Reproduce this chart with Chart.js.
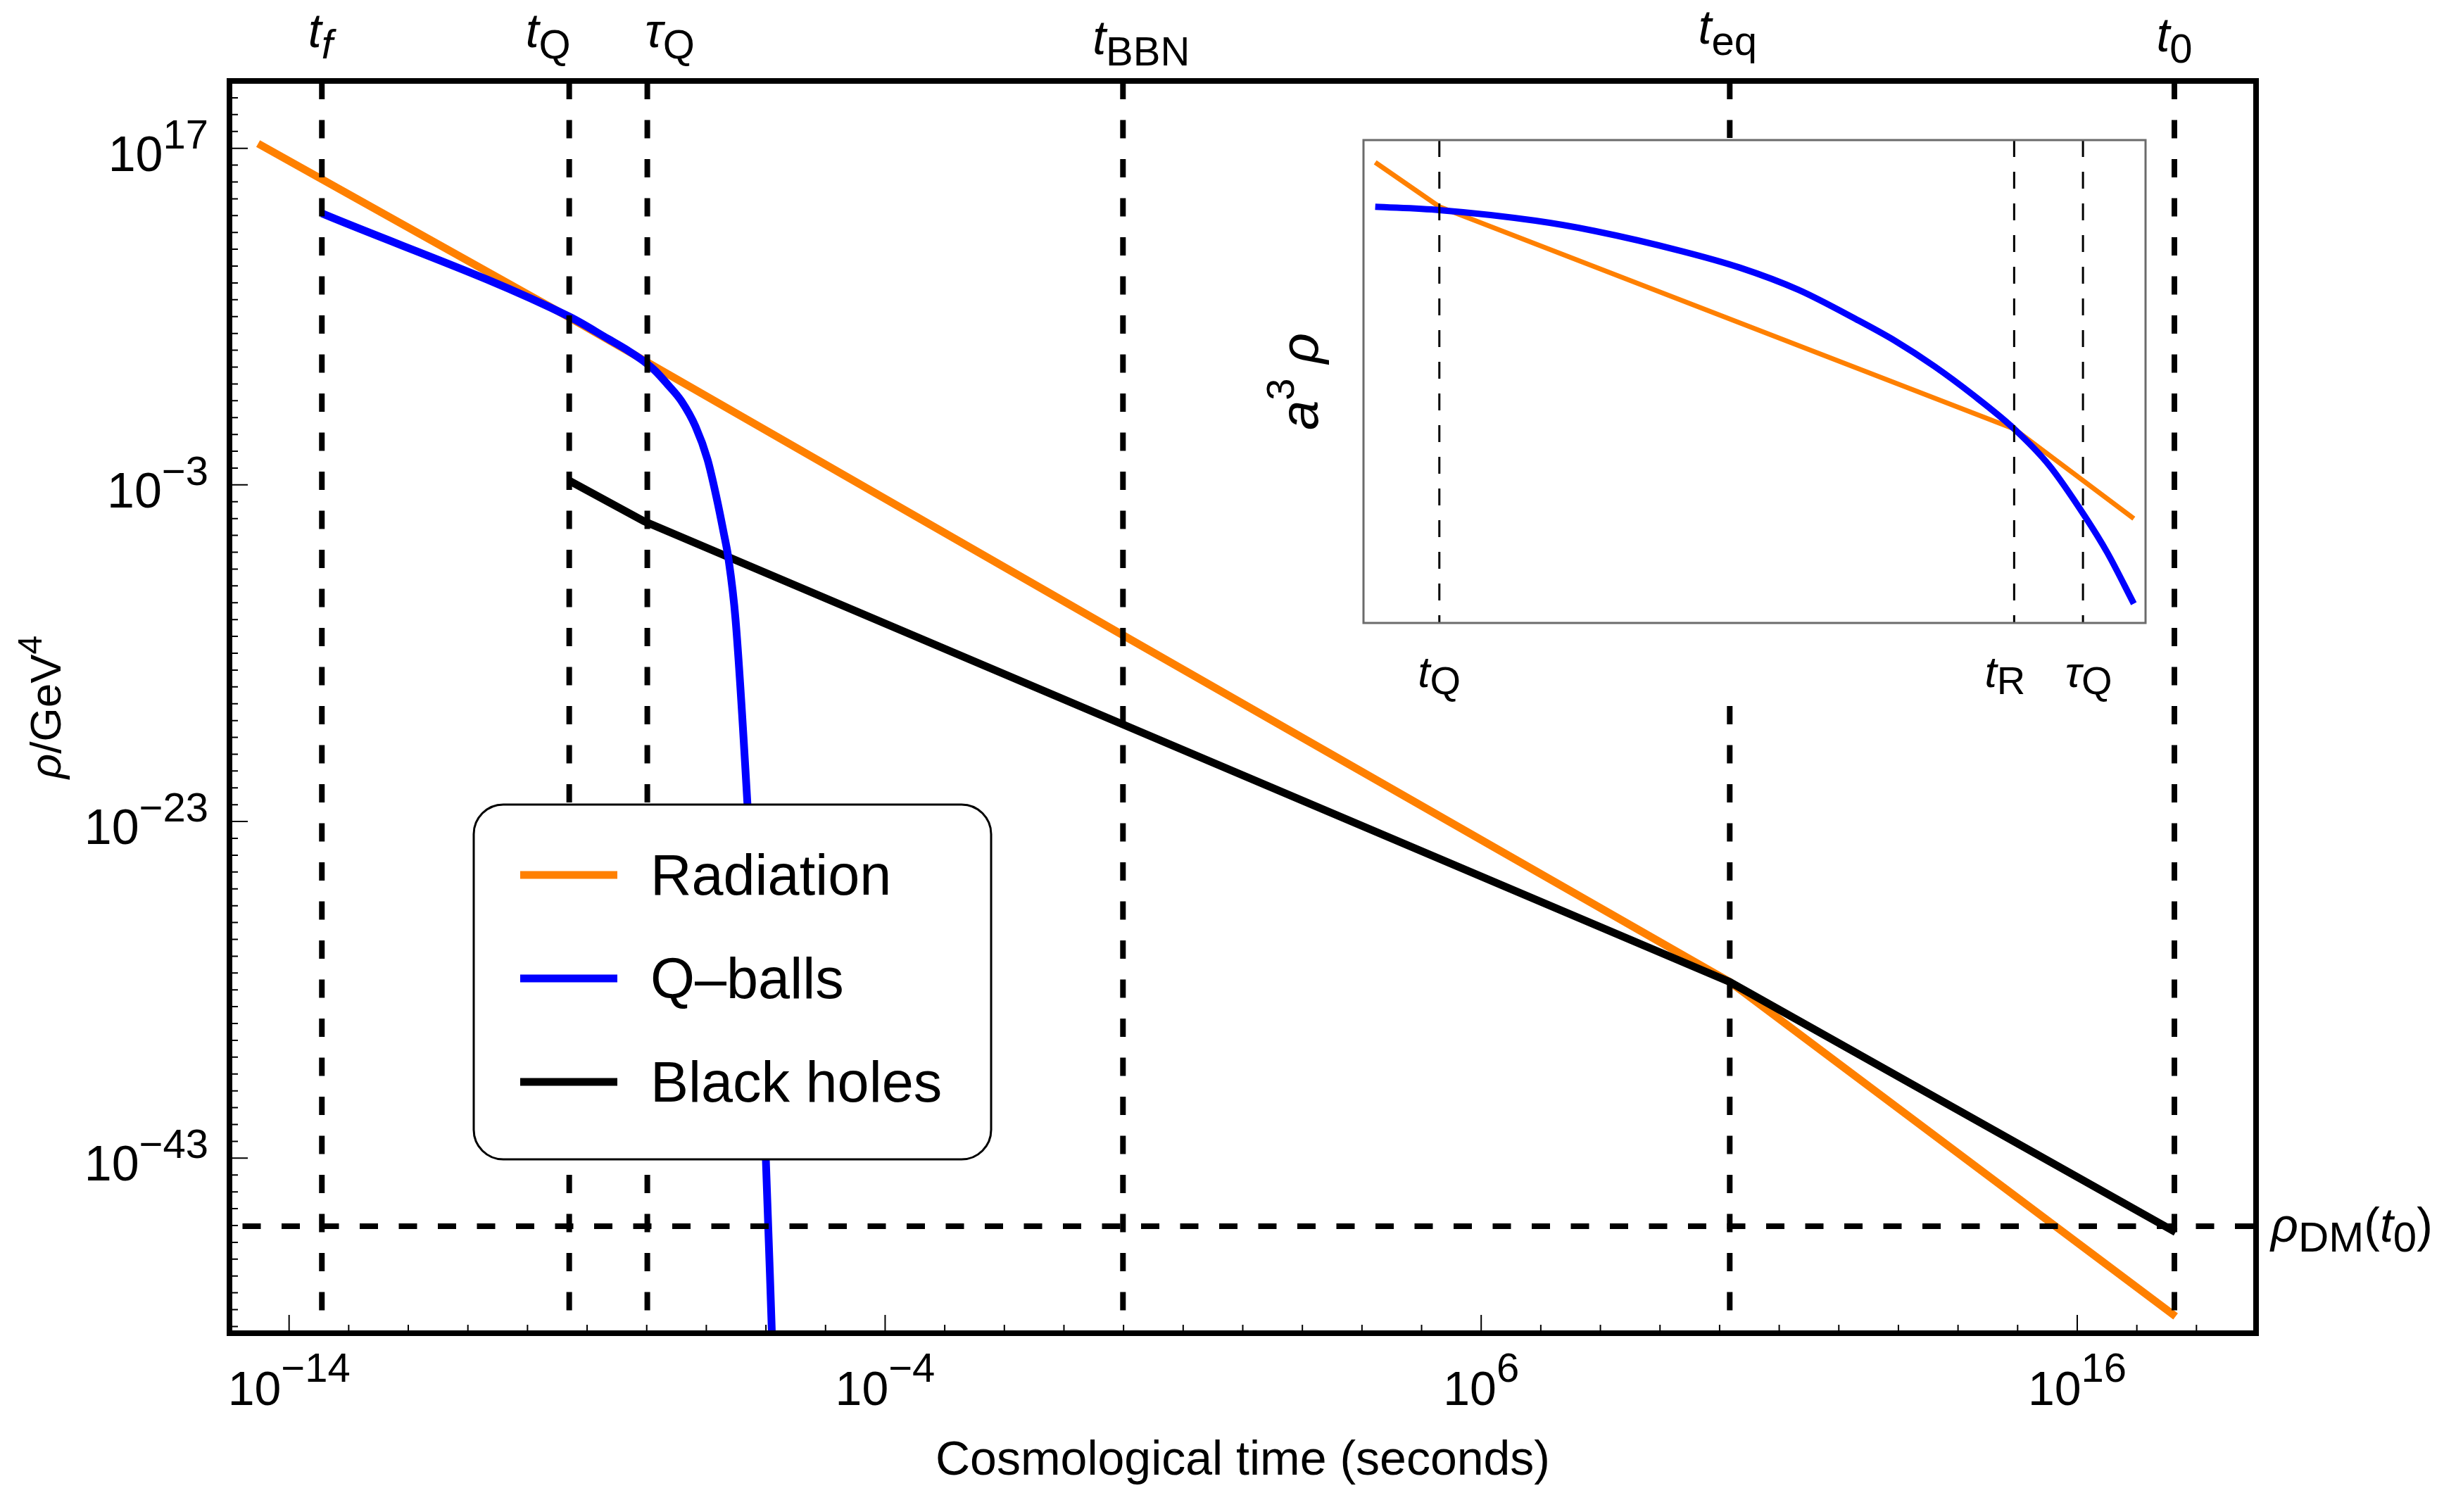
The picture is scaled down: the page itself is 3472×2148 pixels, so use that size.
<!DOCTYPE html>
<html>
<head>
<meta charset="utf-8">
<script src="https://cdn.jsdelivr.net/npm/chart.js@4.4.1/dist/chart.umd.min.js"></script>
<style>
  html, body { margin: 0; padding: 0; background: #fff; }
  #wrap { position: relative; width: 3472px; height: 2148px; }
  #main { position: absolute; left: 0; top: 0; }
  #inset { position: absolute; left: 1790px; top: 196px; background: #fff; }
</style>
</head>
<body>
<div id="wrap">
  <canvas id="main" width="3472" height="2148"></canvas>
  <canvas id="inset" width="1280" height="804"></canvas>
</div>
<script>
// all values are log10: time in seconds, density in GeV^4
const xRangeExp = [-15, 19];
const yRangeExp = [-53.4, 21];
const xTickExps = [-14, -4, 6, 16];
const yTickExps = [17, -3, -23, -43];

const seriesNames = ['Radiation', 'Q–balls', 'Black holes'];
const seriesColors = ['#ff8000', '#0000ff', '#000000'];

const radLogT = [-14.52, -9.30, 0, 10.17, 17.65];
const radLogRho = [17.28, 6.95, -11.95, -32.53, -52.4];

const qbLogT = [-13.45, -9.30, -8.65, -8.3, -8.05, -7.85, -7.65, -7.42, -7.18, -6.98, -6.83, -6.71, -6.63, -6.51, -6.31, -6.0, -5.90];
const qbLogRho = [13.13, 7.0, 5.68, 4.95, 4.35, 3.75, 2.97, 1.99, 0.46, -1.49, -3.73, -5.82, -7.35, -10.98, -21.97, -43.19, -53.4];

const bhLogT = [-9.30, -8.05, 10.17, 17.65];
const bhLogRho = [-2.75, -5.15, -32.53, -47.4];

// vertical markers (top labels) and the dark matter density today
const markerNames = [['t', 'f'], ['t', 'Q'], ['τ', 'Q'], ['t', 'BBN'], ['t', 'eq'], ['t', '0']];
const markerLogT = [-13.45, -9.30, -7.99, -0.01, 10.17, 17.63];
const rhoDMLogRho = -47.04;

// inset: a^3 rho, arbitrary units 0..100
const insetRadX = [1.5, 9.7, 83.2, 98.5];
const insetRadY = [95.4, 86.2, 40.2, 21.6];
const insetQbX = [1.5, 9.7, 22.0, 29.5, 40.7, 48.1, 55.6, 63.1, 68.0, 73.0, 78.0, 83.2, 87.7, 92.2, 95.1, 98.5];
const insetQbY = [86.2, 85.5, 83.3, 81.2, 77.0, 73.6, 69.0, 62.8, 58.4, 53.15, 47.15, 40.2, 32.6, 22.2, 14.6, 4.0];
const insetMarkNames = [['t', 'Q'], ['t', 'R'], ['τ', 'Q']];
const insetMarkX = [9.7, 83.2, 92.0];

const SANS = '"Liberation Sans", Arial, Helvetica, sans-serif';
const F = (size, italic) => (italic ? 'italic ' : '') + size + 'px ' + SANS;
const logPts = (lx, ly) => lx.map((v, i) => ({ x: 10 ** v, y: 10 ** ly[i] }));
const linPts = (xs, ys) => xs.map((v, i) => ({ x: v, y: ys[i] }));

// draw a row of text pieces [text, font, dy]
function drawRuns(ctx, runs, x, y, align) {
  const parts = runs.map(r => {
    ctx.font = r[1];
    return { t: r[0], f: r[1], dy: r[2], w: ctx.measureText(r[0]).width };
  });
  const total = parts.reduce((s, p) => s + p.w, 0);
  let cx = align === 'center' ? x - total / 2 : align === 'right' ? x - total : x;
  ctx.textAlign = 'left';
  ctx.textBaseline = 'alphabetic';
  ctx.fillStyle = '#000';
  parts.forEach(p => {
    ctx.font = p.f;
    ctx.fillText(p.t, cx, y + p.dy);
    cx += p.w;
  });
}

function roundRect(ctx, x, y, w, h, r) {
  ctx.beginPath();
  ctx.moveTo(x + r, y);
  ctx.arcTo(x + w, y, x + w, y + h, r);
  ctx.arcTo(x + w, y + h, x, y + h, r);
  ctx.arcTo(x, y + h, x, y, r);
  ctx.arcTo(x, y, x + w, y, r);
  ctx.closePath();
}

const mainDecor = {
  id: 'mainDecor',
  afterDraw(chart) {
    const ctx = chart.ctx;
    const { left, right, top, bottom } = chart.chartArea;
    const xs = chart.scales.x, ys = chart.scales.y;
    ctx.save();

    // ticks every decade, longer on the labelled ones
    ctx.strokeStyle = '#000';
    ctx.lineWidth = 2;
    ctx.beginPath();
    for (let e = xRangeExp[0] + 1; e < xRangeExp[1]; e++) {
      const px = xs.getPixelForValue(10 ** e);
      const len = xTickExps.includes(e) ? 26 : 12;
      ctx.moveTo(px, bottom);
      ctx.lineTo(px, bottom - len);
    }
    for (let e = Math.ceil(yRangeExp[0]); e < yRangeExp[1]; e++) {
      const py = ys.getPixelForValue(10 ** e);
      const len = yTickExps.includes(e) ? 26 : 12;
      ctx.moveTo(left, py);
      ctx.lineTo(left + len, py);
    }
    ctx.stroke();

    // frame
    ctx.lineWidth = 8;
    ctx.strokeRect(left, top, right - left, bottom - top);

    // tick labels
    xTickExps.forEach(e => {
      const px = xs.getPixelForValue(10 ** e);
      drawRuns(ctx, [['10', F(68), 0], [(e < 0 ? '−' : '') + Math.abs(e), F(58), -33]], px, 1996, 'center');
    });
    yTickExps.forEach(e => {
      const py = ys.getPixelForValue(10 ** e);
      drawRuns(ctx, [['10', F(70), 0], [(e < 0 ? '−' : '') + Math.abs(e), F(58), -32]], 296, py + 32, 'right');
    });

    // axis titles
    drawRuns(ctx, [['Cosmological time (seconds)', F(68), 0]], (left + right) / 2, 2095, 'center');
    ctx.save();
    ctx.translate(86, (top + bottom) / 2);
    ctx.rotate(-Math.PI / 2);
    drawRuns(ctx, [['ρ', F(62, true), 0], ['/GeV', F(62), 0], ['4', F(48), -27]], 0, 0, 'center');
    ctx.restore();

    // marker labels along the top
    const shift = [-2, -30, 32, 26, -3, 0];
    const base = [67, 67, 67, 77, 62, 73];
    markerNames.forEach((m, i) => {
      const px = xs.getPixelForValue(10 ** markerLogT[i]) + shift[i];
      drawRuns(ctx, [[m[0], F(68, true), 0], [m[1], F(58, m[1] === 'f'), 16]], px, base[i], 'center');
    });

    // rho_DM(t_0) at the right
    drawRuns(ctx, [['ρ', F(68, true), 0], ['DM', F(60), 14], ['(', F(68), 0], ['t', F(68, true), 0],
      ['0', F(60), 14], [')', F(68), 0]], right + 21, 1764, 'left');

    // legend
    const lx = 673, ly = 1143, lw = 735, lh = 504;
    roundRect(ctx, lx, ly, lw, lh, 42);
    ctx.fillStyle = '#fff';
    ctx.fill();
    ctx.lineWidth = 3;
    ctx.strokeStyle = '#000';
    ctx.stroke();
    seriesNames.forEach((name, i) => {
      const rowY = 1243 + i * 147;
      ctx.strokeStyle = seriesColors[i];
      ctx.lineWidth = 11;
      ctx.beginPath();
      ctx.moveTo(739, rowY);
      ctx.lineTo(877, rowY);
      ctx.stroke();
      drawRuns(ctx, [[name, F(81), 0]], 924, rowY + 28, 'left');
    });
    ctx.restore();
  }
};

const markerSets = markerLogT.map((lt, i) => ({
  label: markerNames[i].join('_'),
  data: [{ x: 10 ** lt, y: 10 ** yRangeExp[1] }, { x: 10 ** lt, y: 10 ** yRangeExp[0] }],
  borderColor: '#000', borderWidth: 8, borderDash: [26, 29.5], pointRadius: 0, order: 0, clip: 0
}));

new Chart(document.getElementById('main'), {
  type: 'line',
  data: {
    datasets: [
      ...markerSets,
      {
        label: 'rho_DM',
        data: [{ x: 10 ** xRangeExp[0], y: 10 ** rhoDMLogRho }, { x: 10 ** xRangeExp[1], y: 10 ** rhoDMLogRho }],
        borderColor: '#000', borderWidth: 8, borderDash: [26, 29.5], borderDashOffset: 37, pointRadius: 0, order: 0, clip: 0
      },
      {
        label: seriesNames[1], data: logPts(qbLogT, qbLogRho), borderColor: seriesColors[1],
        borderWidth: 11, pointRadius: 0, cubicInterpolationMode: 'monotone', order: 1, clip: 0
      },
      {
        label: seriesNames[2], data: logPts(bhLogT, bhLogRho), borderColor: seriesColors[2],
        borderWidth: 11, pointRadius: 0, tension: 0, order: 2
      },
      {
        label: seriesNames[0], data: logPts(radLogT, radLogRho), borderColor: seriesColors[0],
        borderWidth: 11, pointRadius: 0, tension: 0, order: 3
      }
    ]
  },
  options: {
    responsive: false,
    devicePixelRatio: 1,
    animation: false,
    events: [],
    layout: { padding: { left: 326, top: 115, right: 267, bottom: 254 } },
    plugins: { legend: { display: false }, tooltip: { enabled: false } },
    scales: {
      x: { type: 'logarithmic', min: 10 ** xRangeExp[0], max: 10 ** xRangeExp[1], display: false },
      y: { type: 'logarithmic', min: 10 ** yRangeExp[0], max: 10 ** yRangeExp[1], display: false }
    }
  },
  plugins: [mainDecor]
});

// inset chart
const insetDecor = {
  id: 'insetDecor',
  afterDraw(chart) {
    const ctx = chart.ctx;
    const { left, right, top, bottom } = chart.chartArea;
    const xs = chart.scales.x;
    ctx.save();
    ctx.strokeStyle = '#6b6b6b';
    ctx.lineWidth = 3;
    ctx.strokeRect(left, top, right - left, bottom - top);

    const shift = [0, -13, 8];
    insetMarkNames.forEach((m, i) => {
      const px = xs.getPixelForValue(insetMarkX[i]) + shift[i];
      drawRuns(ctx, [[m[0], F(62, true), 0], [m[1], F(56), 10]], px, 780, 'center');
    });

    ctx.translate(82, (top + bottom) / 2);
    ctx.rotate(-Math.PI / 2);
    drawRuns(ctx, [['a', F(76, true), 0], ['3', F(56), -34], [' ρ', F(76, true), 0]], 0, 0, 'center');
    ctx.restore();
  }
};

new Chart(document.getElementById('inset'), {
  type: 'line',
  data: {
    datasets: [
      ...insetMarkX.map((v, i) => ({
        label: insetMarkNames[i].join('_'),
        data: [{ x: v, y: 100 }, { x: v, y: 0 }],
        borderColor: '#000', borderWidth: 3, borderDash: [24, 21], pointRadius: 0, order: 0, clip: 0
      })),
      {
        label: seriesNames[1], data: linPts(insetQbX, insetQbY), borderColor: seriesColors[1],
        borderWidth: 9, pointRadius: 0, cubicInterpolationMode: 'monotone', order: 1
      },
      {
        label: seriesNames[0], data: linPts(insetRadX, insetRadY), borderColor: seriesColors[0],
        borderWidth: 7, pointRadius: 0, tension: 0, order: 2
      }
    ]
  },
  options: {
    responsive: false,
    devicePixelRatio: 1,
    animation: false,
    events: [],
    layout: { padding: { left: 147, top: 3, right: 22, bottom: 115 } },
    plugins: { legend: { display: false }, tooltip: { enabled: false } },
    scales: {
      x: { type: 'linear', min: 0, max: 100, display: false },
      y: { type: 'linear', min: 0, max: 100, display: false }
    }
  },
  plugins: [insetDecor]
});
</script>
</body>
</html>
